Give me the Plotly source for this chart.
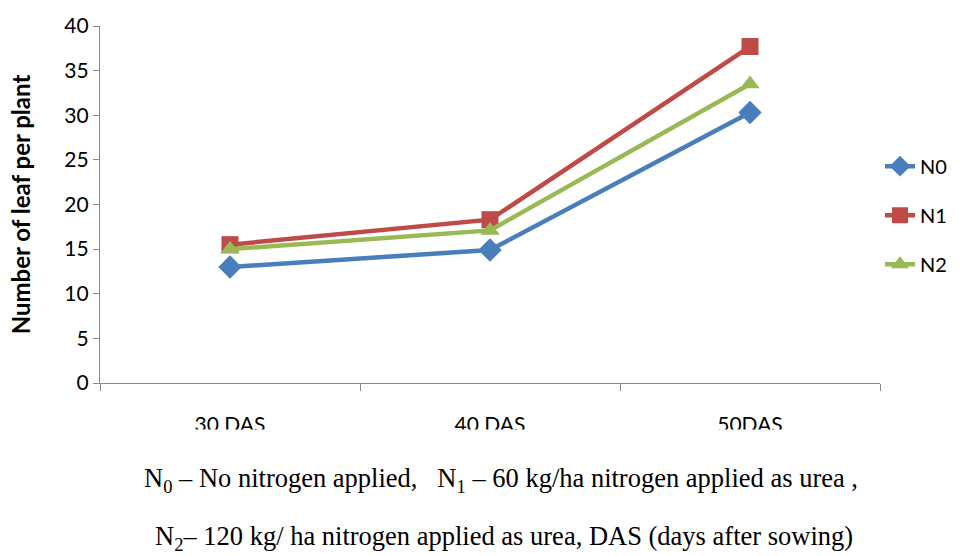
import plotly.graph_objects as go

categories = ["30 DAS", "40 DAS", "50DAS"]
n0 = [13.0, 14.9, 30.3]
n1 = [15.5, 18.3, 37.7]
n2 = [15.0, 17.1, 33.5]
series_names = ["N0", "N1", "N2"]
colors = ["#4a7ebb", "#be4b48", "#98b954"]
symbols = ["diamond", "square", "triangle-up"]
y_title = "Number of leaf per plant"
footnote1 = "N<sub>0</sub> – No nitrogen applied,   N<sub>1</sub> – 60 kg/ha nitrogen applied as urea ,"
footnote2 = "N<sub>2</sub>– 120 kg/ ha nitrogen applied as urea, DAS (days after sowing)"

fig = go.Figure()
for name, vals, col, sym in zip(series_names, [n0, n1, n2], colors, symbols):
    fig.add_trace(go.Scatter(
        x=categories, y=vals, name=name, mode="lines+markers",
        line=dict(color=col, width=4.5),
        marker=dict(symbol=sym, size=17 if sym != "diamond" else 18, color=col),
        legendgroup=name,
    ))

axis_font = dict(family="Lato, Carlito, sans-serif", size=21, color="#000000")
fig.update_layout(
    width=976, height=556,
    margin=dict(l=100, r=96, t=21, b=173),
    plot_bgcolor="white", paper_bgcolor="white",
    showlegend=True,
    legend=dict(x=1.0, xanchor="left", y=0.47, yanchor="middle",
                font=dict(family="Lato, Carlito, sans-serif", size=20, color="#000"),
                tracegroupgap=20, bgcolor="rgba(0,0,0,0)"),
    xaxis=dict(range=[-0.5, 2.5], showline=True, linecolor="#888888", linewidth=1.3, ticks="outside",
               tickson="boundaries", ticklen=7, tickcolor="#888888",
               tickfont=dict(family="Lato, Carlito, sans-serif", size=21, color="#000"),
               ticklabelstandoff=23, showgrid=False, zeroline=False),
    yaxis=dict(range=[0, 40], dtick=5, showline=True, linecolor="#888888", linewidth=1.3,
               ticks="outside", ticklen=6, tickcolor="#888888", tickfont=axis_font,
               showgrid=False, zeroline=False,
               title=dict(text=f"<b>{y_title}</b>", font=dict(family="Lato, Carlito, sans-serif", size=24, color="#000"), standoff=26)),
)

# mask to mimic the clipped category labels
fig.add_shape(type="rect", xref="paper", yref="paper", x0=-0.2, x1=1.2,
              y0=-0.13, y1=-0.20, fillcolor="white", line=dict(width=0), layer="above")

fig.add_annotation(text=footnote1, xref="paper", yref="paper", x=0.514, y=-0.273,
                   xanchor="center", yanchor="middle", showarrow=False,
                   font=dict(family="Liberation Serif, Times New Roman, serif", size=26.5, color="#000"))
fig.add_annotation(text=footnote2, xref="paper", yref="paper", x=0.518, y=-0.434,
                   xanchor="center", yanchor="middle", showarrow=False,
                   font=dict(family="Liberation Serif, Times New Roman, serif", size=26.5, color="#000"))

fig.write_html("out.html")
